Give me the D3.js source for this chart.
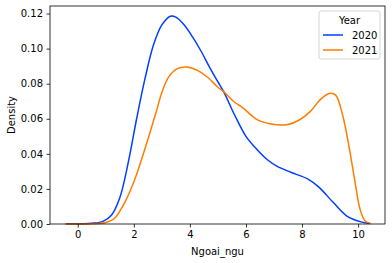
<!DOCTYPE html>
<html>
<head>
<meta charset="utf-8">
<script src="https://cdn.jsdelivr.net/npm/d3@7"></script>
<style>
  body { margin: 0; background: #fff; }
  svg { display: block; font-family: "DejaVu Sans", sans-serif; }
</style>
</head>
<body>
<div class="chart"></div>
<script>
// kde curves
var years = ['2020', '2021'];
var colors = ['#023eff', '#ff7c00'];

var x2020 = [-0.43, 0.5, 0.9, 1.2, 1.5, 1.8, 2.1, 2.4, 2.7, 3.0, 3.3, 3.5, 3.8, 4.1, 4.4, 4.7, 5.0, 5.2, 5.6, 6.0, 6.4, 6.8, 7.1, 7.6, 8.2, 8.6, 9.1, 9.6, 10.1, 10.4];
var y2020 = [0.0001, 0.0004, 0.0015, 0.005, 0.015, 0.035, 0.06, 0.083, 0.102, 0.1135, 0.1185, 0.118, 0.1135, 0.1065, 0.0985, 0.0895, 0.081, 0.0756, 0.062, 0.05, 0.0424, 0.0362, 0.033, 0.0295, 0.0257, 0.021, 0.0125, 0.0045, 0.0012, 0.0003];

var x2021 = [-0.43, 0.5, 1.0, 1.3, 1.6, 2.0, 2.4, 2.8, 3.0, 3.25, 3.55, 3.9, 4.25, 4.6, 5.0, 5.2, 5.55, 5.9, 6.4, 6.85, 7.45, 7.9, 8.3, 8.65, 9.0, 9.2, 9.45, 9.7, 9.9, 10.07, 10.25, 10.45];
var y2021 = [0.0, 0.0001, 0.0008, 0.003, 0.01, 0.024, 0.043, 0.064, 0.075, 0.084, 0.0886, 0.0895, 0.0877, 0.0841, 0.078, 0.0756, 0.07, 0.0661, 0.0595, 0.0572, 0.0566, 0.0593, 0.0642, 0.0709, 0.0745, 0.0735, 0.062, 0.042, 0.023, 0.0084, 0.0017, 0.0003];

var xTicks = [0, 2, 4, 6, 8, 10];
var yTicks = [0, 0.02, 0.04, 0.06, 0.08, 0.10, 0.12];

var width = 392;
var height = 263;
var margin = {top: 6, right: 7, bottom: 39, left: 50};

var series = [
  {name: years[0], color: colors[0], pts: x2020.map((v, i) => [v, y2020[i]])},
  {name: years[1], color: colors[1], pts: x2021.map((v, i) => [v, y2021[i]])}
];

var x = d3.scaleLinear().domain([-0.99, 10.96]).range([margin.left, width - margin.right]);
var y = d3.scaleLinear().domain([0, 0.1243]).range([height - margin.bottom, margin.top]);

var svg = d3.select('.chart').append('svg')
    .attr('width', width)
    .attr('height', height);

var line = d3.line()
    .x(d => x(d[0]))
    .y(d => y(d[1]))
    .curve(d3.curveCatmullRom);

svg.selectAll('path.kde')
  .data(series)
  .enter().append('path')
    .attr('class', 'kde')
    .attr('fill', 'none')
    .attr('stroke', d => d.color)
    .attr('stroke-width', 1.5)
    .attr('d', d => line(d.pts));

var xAxis = svg.append('g')
    .attr('transform', `translate(0,${height - margin.bottom})`)
    .call(d3.axisBottom(x).tickValues(xTicks).tickSize(3.5).tickPadding(3.5).tickFormat(d3.format('d')));

var yAxis = svg.append('g')
    .attr('transform', `translate(${margin.left},0)`)
    .call(d3.axisLeft(y).tickValues(yTicks).tickSize(3.5).tickPadding(3.5).tickFormat(d3.format('.2f')));

[xAxis, yAxis].forEach(g => {
  g.select('.domain').remove();
  g.selectAll('line').attr('stroke', '#000').attr('stroke-width', 0.8);
  g.selectAll('text').attr('fill', '#000').style('font-size', '10px').style('font-family', '"DejaVu Sans", sans-serif');
});

// frame
svg.append('rect')
    .attr('x', margin.left)
    .attr('y', margin.top)
    .attr('width', width - margin.left - margin.right)
    .attr('height', height - margin.top - margin.bottom)
    .attr('fill', 'none')
    .attr('stroke', '#000')
    .attr('stroke-width', 0.8);

svg.append('text')
    .attr('x', (margin.left + width - margin.right) / 2)
    .attr('y', height - 8)
    .attr('text-anchor', 'middle')
    .style('font-size', '10px')
    .text('Ngoai_ngu');

svg.append('text')
    .attr('transform', `translate(15,${(margin.top + height - margin.bottom) / 2}) rotate(-90)`)
    .attr('text-anchor', 'middle')
    .style('font-size', '10px')
    .text('Density');

// legend
var legend = svg.append('g').attr('transform', 'translate(319,11)');

legend.append('rect')
    .attr('width', 61)
    .attr('height', 48)
    .attr('rx', 2)
    .attr('fill', '#fff')
    .attr('fill-opacity', 0.8)
    .attr('stroke', '#ccc')
    .attr('stroke-width', 0.8);

legend.append('text')
    .attr('x', 30.5)
    .attr('y', 13)
    .attr('text-anchor', 'middle')
    .style('font-size', '10px')
    .text('Year');

var item = legend.selectAll('g.item')
  .data(series)
  .enter().append('g')
    .attr('class', 'item')
    .attr('transform', (d, i) => `translate(0,${24 + i * 15})`);

item.append('line')
    .attr('x1', 4)
    .attr('x2', 24)
    .attr('stroke', d => d.color)
    .attr('stroke-width', 1.5);

item.append('text')
    .attr('x', 33)
    .attr('dy', '0.35em')
    .style('font-size', '10px')
    .text(d => d.name);
</script>
</body>
</html>
